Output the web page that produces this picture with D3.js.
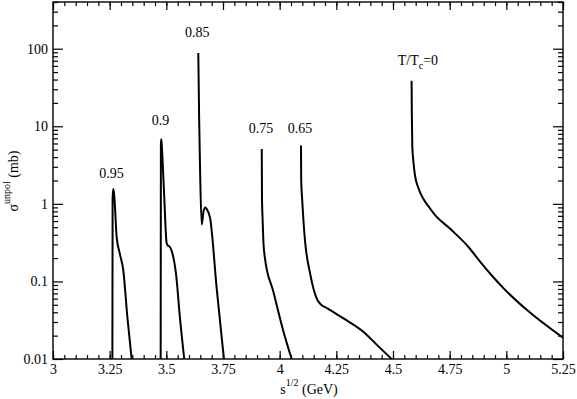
<!DOCTYPE html>
<html>
<head>
<meta charset="utf-8">
<script src="https://cdn.jsdelivr.net/npm/d3@7"></script>
<style>
  body { margin: 0; background: #fff; }
</style>
</head>
<body>
<div class="chart"></div>
<script>
const FONT = "'Liberation Serif', 'Times New Roman', 'DejaVu Serif', serif";

// curve values: sqrt(s) in GeV, sigma in mb
const s095 = [3.262, 3.263, 3.266, 3.270, 3.281, 3.296, 3.310, 3.328, 3.347];
const sig095 = [0.01, 1.2, 1.55, 1.3, 0.37, 0.22, 0.14, 0.035, 0.01];

const s090 = [3.475, 3.476, 3.478, 3.481, 3.4895, 3.5015, 3.507, 3.515, 3.523, 3.543, 3.560, 3.579];
const sig090 = [0.01, 6.0, 6.8, 5.0, 1.5, 0.31, 0.29, 0.28, 0.25, 0.123, 0.034, 0.01];

const s085 = [3.641, 3.645, 3.649, 3.656, 3.664, 3.672, 3.680, 3.693, 3.722, 3.754];
const sig085 = [88, 11.3, 2.57, 0.54, 0.8, 0.9, 0.84, 0.66, 0.082, 0.01];

const s075 = [3.921, 3.922, 3.924, 3.928, 3.935, 3.972, 4.016, 4.053];
const sig075 = [5.1, 1.17, 0.72, 0.33, 0.2, 0.074, 0.023, 0.01];

const s065 = [4.094, 4.095, 4.099, 4.105, 4.112, 4.134, 4.166, 4.180, 4.210, 4.251, 4.296, 4.368, 4.429, 4.494];
const sig065 = [5.67, 2.0, 1.17, 0.6, 0.33, 0.128, 0.058, 0.051, 0.045, 0.038, 0.0315, 0.0226, 0.0152, 0.01];

const s000 = [4.582, 4.583, 4.585, 4.590, 4.597, 4.612, 4.633, 4.660, 4.685, 4.751, 4.832, 4.884, 4.935, 4.987, 5.090, 5.25];
const sig000 = [38.5, 15, 5.67, 3.5, 2.33, 1.6, 1.17, 0.9, 0.72, 0.48, 0.28, 0.18, 0.12, 0.082, 0.043, 0.0188];

const xTicks = [3, 3.25, 3.5, 3.75, 4, 4.25, 4.5, 4.75, 5, 5.25];
const yTicks = [0.01, 0.1, 1, 10, 100];

// labels sit at [x, y] in data units
const curves = [
  { s: s095, sig: sig095, label: "0.95", at: [3.258, 2.15] },
  { s: s090, sig: sig090, label: "0.9", at: [3.474, 10.5] },
  { s: s085, sig: sig085, label: "0.85", at: [3.636, 140] },
  { s: s075, sig: sig075, label: "0.75", at: [3.918, 8.2] },
  { s: s065, sig: sig065, label: "0.65", at: [4.090, 8.2] },
  { s: s000, sig: sig000, label: null, at: [4.610, 60] }
];

const W = 577, H = 399;
const m = { left: 53, right: 14, top: 2, bottom: 40 };

const svg = d3.select(".chart").append("svg")
  .attr("width", W)
  .attr("height", H)
  .attr("font-family", FONT);

const x = d3.scaleLinear().domain([3, 5.25]).range([m.left, W - m.right]);
const y = d3.scaleLog().domain([0.01, 400]).range([H - m.bottom, m.top]);

// minor ticks
const xMinor = d3.range(3, 5.2501, 0.05).map(d => +d.toFixed(2));
const yMinor = [];
[0.01, 0.1, 1, 10, 100].forEach(dec => {
  for (let k = 2; k <= 9; k++) if (dec * k <= 400) yMinor.push(dec * k);
});

const fmtX = d => String(d);
const fmtY = d => (d >= 1 ? d3.format("d")(d) : String(+d.toPrecision(1)));

function styleAxis(g) {
  g.attr("font-family", FONT);
  g.select(".domain").remove();
  g.selectAll("line").attr("stroke", "#000").attr("stroke-width", 1.2);
  g.selectAll("text").attr("fill", "#000")
    .style("font-family", FONT)
    .style("font-size", "14px");
}

// bottom
svg.append("g").attr("transform", `translate(0,${H - m.bottom})`)
  .call(d3.axisBottom(x).tickValues(xMinor).tickSize(-4).tickFormat(""))
  .call(styleAxis);
svg.append("g").attr("transform", `translate(0,${H - m.bottom})`)
  .call(d3.axisBottom(x).tickValues(xTicks).tickSize(-8).tickPadding(5).tickFormat(fmtX))
  .call(styleAxis);
// top
svg.append("g").attr("transform", `translate(0,${m.top})`)
  .call(d3.axisTop(x).tickValues(xMinor).tickSize(-4).tickFormat(""))
  .call(styleAxis);
svg.append("g").attr("transform", `translate(0,${m.top})`)
  .call(d3.axisTop(x).tickValues(xTicks).tickSize(-8).tickFormat(""))
  .call(styleAxis);
// left
svg.append("g").attr("transform", `translate(${m.left},0)`)
  .call(d3.axisLeft(y).tickValues(yMinor).tickSize(-5).tickFormat(""))
  .call(styleAxis);
svg.append("g").attr("transform", `translate(${m.left},0)`)
  .call(d3.axisLeft(y).tickValues(yTicks).tickSize(-10).tickPadding(5).tickFormat(fmtY))
  .call(styleAxis);
// right
svg.append("g").attr("transform", `translate(${W - m.right},0)`)
  .call(d3.axisRight(y).tickValues(yMinor).tickSize(-5).tickFormat(""))
  .call(styleAxis);
svg.append("g").attr("transform", `translate(${W - m.right},0)`)
  .call(d3.axisRight(y).tickValues(yTicks).tickSize(-10).tickFormat(""))
  .call(styleAxis);

// frame
svg.append("rect")
  .attr("x", m.left).attr("y", m.top)
  .attr("width", W - m.left - m.right)
  .attr("height", H - m.top - m.bottom)
  .attr("fill", "none")
  .attr("stroke", "#000")
  .attr("stroke-width", 1.4);

// curves
const line = d3.line()
  .x(d => x(d[0]))
  .y(d => y(d[1]))
  .curve(d3.curveMonotoneX);

curves.forEach(c => {
  const pts = c.s.map((v, i) => [v, c.sig[i]]);
  svg.append("path")
    .datum(pts)
    .attr("d", line)
    .attr("fill", "none")
    .attr("stroke", "#000")
    .attr("stroke-width", 2);

  if (c.label) {
    svg.append("text")
      .attr("x", x(c.at[0]))
      .attr("y", y(c.at[1]))
      .attr("text-anchor", "middle")
      .style("font-family", FONT)
      .style("font-size", "14px")
      .text(c.label);
  }
});

// T/Tc=0 label
const tt = svg.append("text")
  .attr("x", x(curves[5].at[0]))
  .attr("y", y(curves[5].at[1]) - 1)
  .attr("text-anchor", "middle")
  .style("font-family", FONT)
  .style("font-size", "14px");
tt.append("tspan").text("T/T");
tt.append("tspan").attr("dy", 4).style("font-size", "10px").text("c");
tt.append("tspan").attr("dy", -4).text("=0");

// x axis title as one text with tspans
const xt = svg.append("text")
  .attr("x", 309)
  .attr("y", 394)
  .attr("text-anchor", "middle")
  .style("font-family", FONT)
  .style("font-size", "14px");
xt.append("tspan").text("s");
xt.append("tspan").attr("dy", -8).style("font-size", "10px").text("1/2");
xt.append("tspan").attr("dy", 8).text(" (GeV)");

// y axis title
const yt = svg.append("text")
  .attr("transform", "translate(18,181) rotate(-90)")
  .attr("text-anchor", "middle")
  .style("font-family", FONT)
  .style("font-size", "14px");
yt.append("tspan").text("σ");
yt.append("tspan").attr("dy", -8).style("font-size", "10px").text("unpol");
yt.append("tspan").attr("dy", 8).text(" (mb)");
</script>
</body>
</html>
